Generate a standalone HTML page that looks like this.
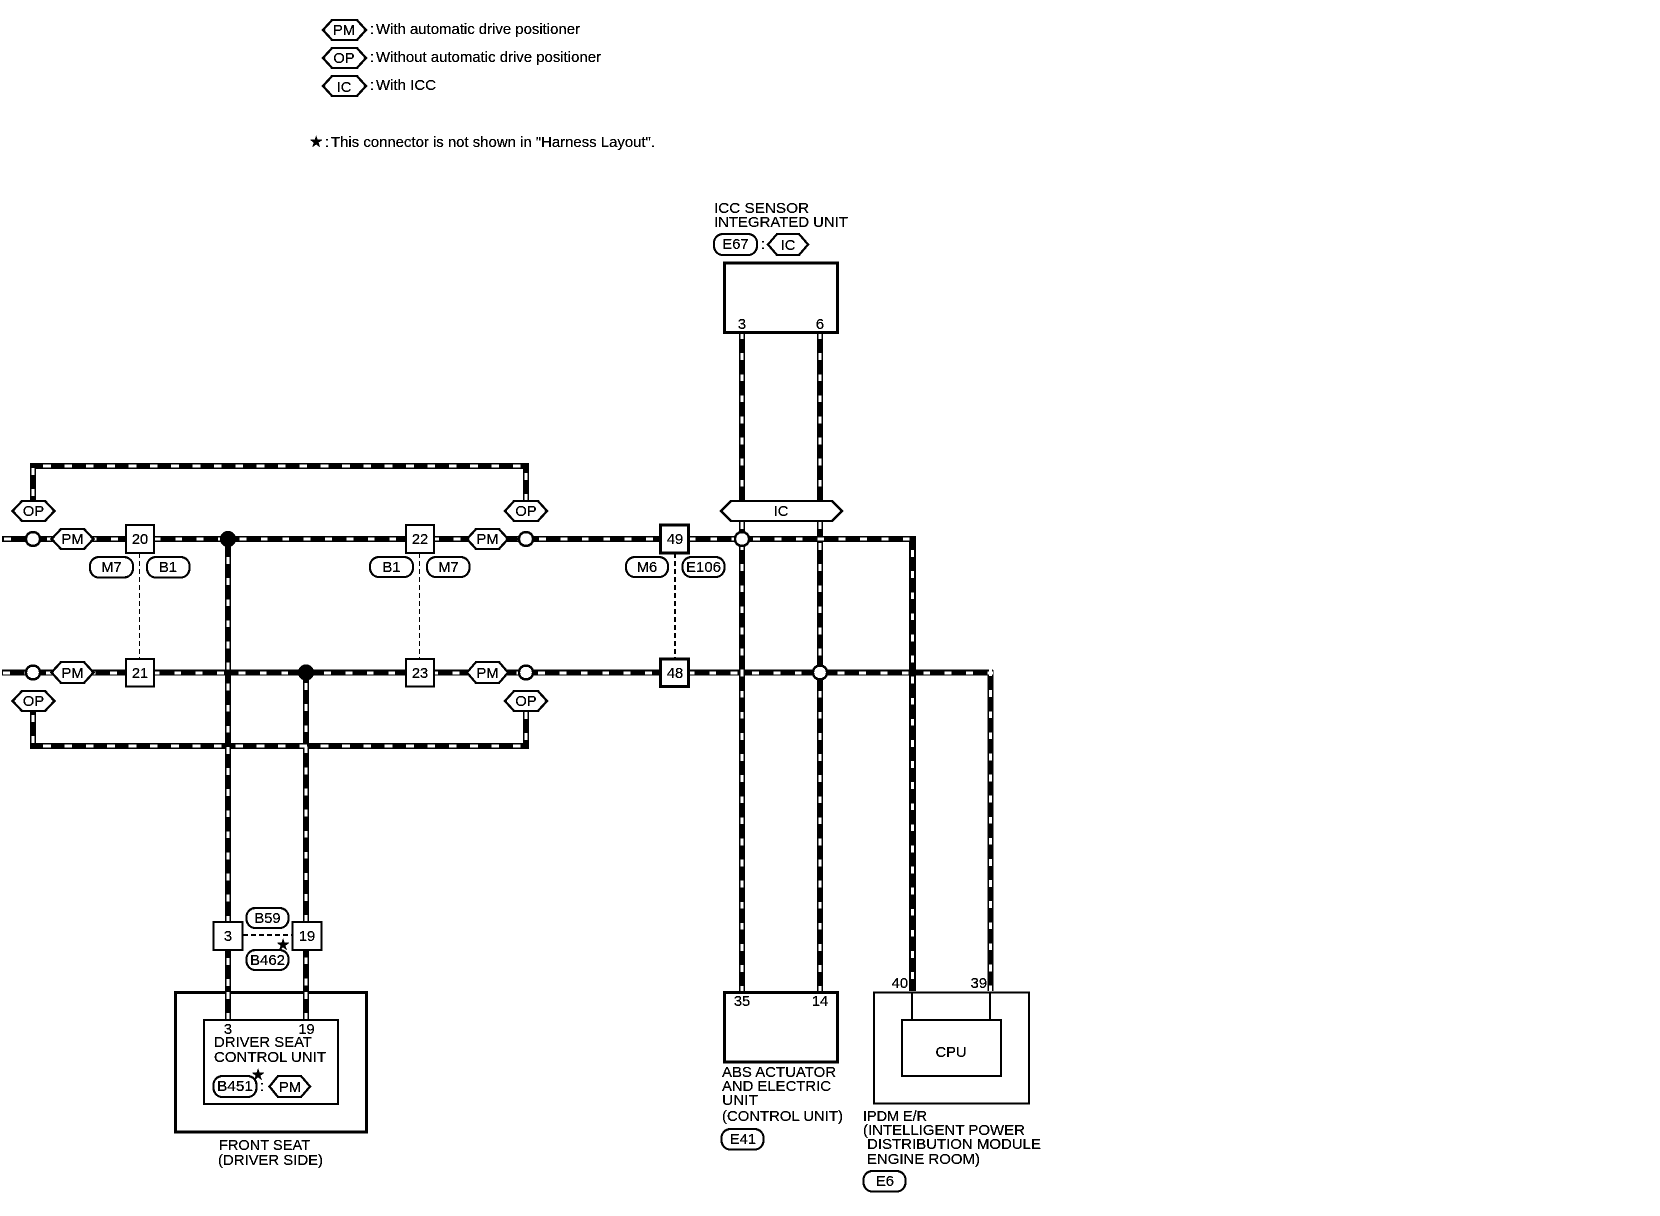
<!DOCTYPE html>
<html><head><meta charset="utf-8"><style>
html,body{margin:0;padding:0;background:#fff}
svg{display:block;position:absolute;left:0;top:0}
text{font-family:"Liberation Sans",Arial,sans-serif;font-size:14.7px;fill:#000}
.m{text-anchor:middle}
.b{fill:none;stroke:#000;stroke-width:6}
.w{fill:none;stroke:#fff;stroke-width:3.4}
.h{stroke-dasharray:7 14.4}
.v{stroke-dasharray:7 14.1}
.hx{fill:#fff;stroke:#000;stroke-width:2.1}
.pl{fill:#fff;stroke:#000;stroke-width:1.9}
.bx{fill:#fff;stroke:#000;stroke-width:1.8}
.cr{fill:#fff;stroke:#000;stroke-width:2.2}
.bk{fill:#fff;stroke:#000;stroke-width:2.8}
.no{fill:none;stroke:#000}
.st{font-family:"DejaVu Sans",sans-serif;font-size:16px}
</style></head><body>
<svg width="1660" height="1216" viewBox="0 0 1660 1216" xmlns="http://www.w3.org/2000/svg">
<defs><filter id="t" x="0" y="0" width="100%" height="100%" color-interpolation-filters="sRGB"><feComponentTransfer><feFuncR type="discrete" tableValues="0 0 0 1"/><feFuncG type="discrete" tableValues="0 0 0 1"/><feFuncB type="discrete" tableValues="0 0 0 1"/></feComponentTransfer></filter></defs>
<g filter="url(#t)">
<rect width="1660" height="1216" fill="#fff"/>

<!-- wires: black bands -->
<path class="b" d="M2 539H916M2 672.5H993M33 500V466H526V500M33 700V746H526V700"/>
<path class="b" style="stroke-width:5.6" d="M228 539V1019M306 672V1019M742 332V991M820 332V991M990.500 670V991"/>
<path class="b" style="stroke-width:7" d="M912.5 536V991"/>

<!-- wires: white dashes -->
<path class="w h" d="M4 539H913"/>
<path class="w h" d="M3 673H993"/>
<path class="w" style="stroke-dasharray:8 13.35" d="M43 466H526"/>
<path class="w" style="stroke-dasharray:8 13.35" d="M43 746H526"/>
<path class="w" style="stroke-dasharray:7 14" d="M33 468V500M33 715V746M526 473V500M526 712V746"/>
<path class="w v" d="M228 557V1019"/>
<path class="w v" d="M306 683V1019"/>
<path class="w v" d="M742 332V991"/>
<path class="w v" d="M820 332V991"/>
<path class="w v" d="M912.5 550V991"/>
<path class="w v" d="M990.500 669V991"/>

<!-- dashed links -->
<path class="no" stroke-width="1.2" stroke-dasharray="5 3" d="M139.500 553V658M419.500 553V658"/>
<path class="no" stroke-width="2" stroke-dasharray="5 3" d="M675 553V658"/>
<path class="no" stroke-width="1.6" stroke-dasharray="5 3" d="M243 935H292"/>

<!-- legend -->
<polygon class="hx" points="323,30 332,20 357,20 366,30 357,40 332,40"/><text class="m" x="344" y="35">PM</text>
<text x="370" y="34">:</text><text x="376" y="34" textLength="204" lengthAdjust="spacingAndGlyphs">With automatic drive positioner</text>
<polygon class="hx" points="323,58 332,48 357,48 366,58 357,68 332,68"/><text class="m" x="344" y="63">OP</text>
<text x="370" y="62">:</text><text x="376" y="62" textLength="225" lengthAdjust="spacingAndGlyphs">Without automatic drive positioner</text>
<polygon class="hx" points="323,86 332,76 357,76 366,86 357,96 332,96"/><text class="m" x="344" y="92">IC</text>
<text x="370" y="90">:</text><text x="376" y="90" textLength="60" lengthAdjust="spacingAndGlyphs">With ICC</text>
<text class="st" x="309" y="147">★</text><text x="325" y="147">:</text><text x="331" y="147" textLength="324" lengthAdjust="spacingAndGlyphs">This connector is not shown in "Harness Layout".</text>

<!-- ICC unit -->
<text x="714" y="213" textLength="95" lengthAdjust="spacingAndGlyphs">ICC SENSOR</text>
<text x="714" y="227" textLength="134" lengthAdjust="spacingAndGlyphs">INTEGRATED UNIT</text>
<rect class="pl" x="714" y="234" width="43" height="21" rx="9"/><text class="m" x="735.500" y="249">E67</text>
<text x="761" y="249">:</text>
<polygon class="hx" points="768,244.500 777,234 799,234 808,244.500 799,255 777,255"/><text class="m" x="788" y="250">IC</text>
<rect class="bk" x="724.500" y="263" width="113" height="69.500" style="fill:none"/>
<text class="m" x="742" y="329">3</text><text class="m" x="820" y="329">6</text>

<!-- IC strip -->
<polygon class="hx" points="721,511 731,501 832,501 842,511 832,521 731,521"/><text class="m" x="781" y="516">IC</text>

<!-- left hexes & junctions -->
<polygon class="hx" points="12.500,511 22,501 45,501 54.500,511 45,521 22,521"/><text class="m" x="33.500" y="516">OP</text>
<polygon class="hx" points="51.500,539 61,529 84,529 93.500,539 84,549 61,549"/><text class="m" x="72.500" y="544">PM</text>
<polygon class="hx" points="51.500,672.500 61,662 84,662 93.500,672.500 84,683 61,683"/><text class="m" x="72.500" y="678">PM</text>
<polygon class="hx" points="12.500,701 22,691 45,691 54.500,701 45,711 22,711"/><text class="m" x="33.500" y="706">OP</text>
<circle class="cr" cx="33" cy="539" r="7"/><circle class="cr" cx="33" cy="672.500" r="7"/>

<polygon class="hx" points="505,511 514,501 538,501 547,511 538,521 514,521"/><text class="m" x="526" y="516">OP</text>
<polygon class="hx" points="467,539 476,529 499,529 508,539 499,549 476,549"/><text class="m" x="487.500" y="544">PM</text>
<polygon class="hx" points="467,672.500 476,662 499,662 508,672.500 499,683 476,683"/><text class="m" x="487.500" y="678">PM</text>
<polygon class="hx" points="505,701 514,691 538,691 547,701 538,711 514,711"/><text class="m" x="526" y="706">OP</text>
<circle class="cr" cx="526" cy="539" r="7"/><circle class="cr" cx="526" cy="672.500" r="7"/>
<circle class="cr" cx="742" cy="539" r="7"/><circle class="cr" cx="820" cy="672.500" r="7"/>
<circle cx="228" cy="539" r="8"/><circle cx="306" cy="672.500" r="8"/>

<!-- connector boxes -->
<rect class="bx" x="126" y="525" width="28" height="28" style="stroke-width:2"/><text class="m" x="140" y="544">20</text>
<rect class="bx" x="126" y="659" width="28" height="27.500"/><text class="m" x="140" y="678">21</text>
<rect class="bx" x="406" y="525" width="28" height="28" style="stroke-width:2"/><text class="m" x="420" y="544">22</text>
<rect class="bx" x="406" y="659" width="28" height="27.500"/><text class="m" x="420" y="678">23</text>
<rect class="bx" x="660.500" y="525" width="28" height="28" style="stroke-width:2.5"/><text class="m" x="675" y="544">49</text>
<rect class="bx" x="660.500" y="659" width="28" height="27.500" style="stroke-width:2.5"/><text class="m" x="675" y="678">48</text>

<!-- pills -->
<rect class="pl" x="90" y="557" width="43" height="20.500" rx="9"/><text class="m" x="111.500" y="572">M7</text>
<rect class="pl" x="147" y="557" width="42.500" height="20.500" rx="9"/><text class="m" x="168" y="572">B1</text>
<rect class="pl" x="370" y="557" width="43" height="20" rx="9"/><text class="m" x="391.500" y="572">B1</text>
<rect class="pl" x="427" y="557" width="42.500" height="20" rx="9"/><text class="m" x="448.500" y="572">M7</text>
<rect class="pl" x="626" y="557" width="42" height="20" rx="9"/><text class="m" x="647" y="572">M6</text>
<rect class="pl" x="682.500" y="557" width="42" height="20" rx="9"/><text class="m" x="703.500" y="572" textLength="35" lengthAdjust="spacingAndGlyphs">E106</text>

<!-- front seat -->
<rect class="bx" x="213.500" y="922" width="29" height="28"/><text class="m" x="228" y="941">3</text>
<rect class="bx" x="292.500" y="922" width="29" height="28"/><text class="m" x="307" y="941">19</text>
<rect class="pl" x="246.500" y="908" width="42" height="20" rx="9"/><text class="m" x="267.500" y="923">B59</text>
<rect class="pl" x="246.500" y="950" width="42" height="20" rx="9"/><text class="m" x="267.500" y="965" textLength="35" lengthAdjust="spacingAndGlyphs">B462</text>
<text class="st m" x="283" y="950">★</text>

<rect class="bk" x="175.500" y="992.500" width="191" height="139.500" style="fill:none"/>
<rect class="bx" x="204" y="1020" width="134" height="84"/>
<path class="b" style="stroke-width:5.6" d="M228 992V1019M306 992V1019"/>
<path class="w" style="stroke-dasharray:7 14.1" d="M228 992V1019M306 992V1019"/>
<text class="m" x="228" y="1034">3</text><text class="m" x="306.500" y="1034">19</text>
<text x="214" y="1047" textLength="98" lengthAdjust="spacingAndGlyphs">DRIVER SEAT</text>
<text x="214" y="1062" textLength="112" lengthAdjust="spacingAndGlyphs">CONTROL UNIT</text>
<rect class="pl" x="213.500" y="1076" width="43" height="21" rx="9"/><text class="m" x="235" y="1091" textLength="36" lengthAdjust="spacingAndGlyphs">B451</text>
<text x="260" y="1091">:</text>
<text class="st m" x="258" y="1080">★</text>
<polygon class="hx" points="269.500,1086.500 278,1076 301,1076 310,1086.500 301,1097 278,1097"/><text class="m" x="290" y="1092">PM</text>
<text x="219" y="1150" textLength="91" lengthAdjust="spacingAndGlyphs">FRONT SEAT</text>
<text x="218" y="1165" textLength="105" lengthAdjust="spacingAndGlyphs">(DRIVER SIDE)</text>

<!-- ABS -->
<rect class="bk" x="724.500" y="992.500" width="113" height="69.500" style="fill:#fff"/>
<text class="m" x="742" y="1006">35</text><text class="m" x="820" y="1006">14</text>
<text x="722" y="1077" textLength="114" lengthAdjust="spacingAndGlyphs">ABS ACTUATOR</text>
<text x="722" y="1091" textLength="109" lengthAdjust="spacingAndGlyphs">AND ELECTRIC</text>
<text x="722" y="1105" textLength="36" lengthAdjust="spacingAndGlyphs">UNIT</text>
<text x="722" y="1121" textLength="121" lengthAdjust="spacingAndGlyphs">(CONTROL UNIT)</text>
<rect class="pl" x="721.500" y="1129" width="42" height="20.500" rx="9"/><text class="m" x="743" y="1144">E41</text>

<!-- IPDM -->
<rect class="bx" x="874" y="992.500" width="155" height="111" />
<path class="no" stroke-width="1.8" d="M912 992V1020M990 992V1020"/>
<rect class="bx" x="902" y="1020" width="99" height="56"/>
<text class="m" x="951" y="1057">CPU</text>
<text x="908" y="988" text-anchor="end">40</text>
<text x="987" y="988" text-anchor="end">39</text>
<text x="863" y="1121" textLength="64" lengthAdjust="spacingAndGlyphs">IPDM E/R</text>
<text x="863" y="1135" textLength="162" lengthAdjust="spacingAndGlyphs">(INTELLIGENT POWER</text>
<text x="867" y="1149" textLength="174" lengthAdjust="spacingAndGlyphs">DISTRIBUTION MODULE</text>
<text x="867" y="1164" textLength="113" lengthAdjust="spacingAndGlyphs">ENGINE ROOM)</text>
<rect class="pl" x="863.500" y="1171" width="42" height="20.500" rx="9"/><text class="m" x="885" y="1186">E6</text>
</g>
</svg>
</body></html>
